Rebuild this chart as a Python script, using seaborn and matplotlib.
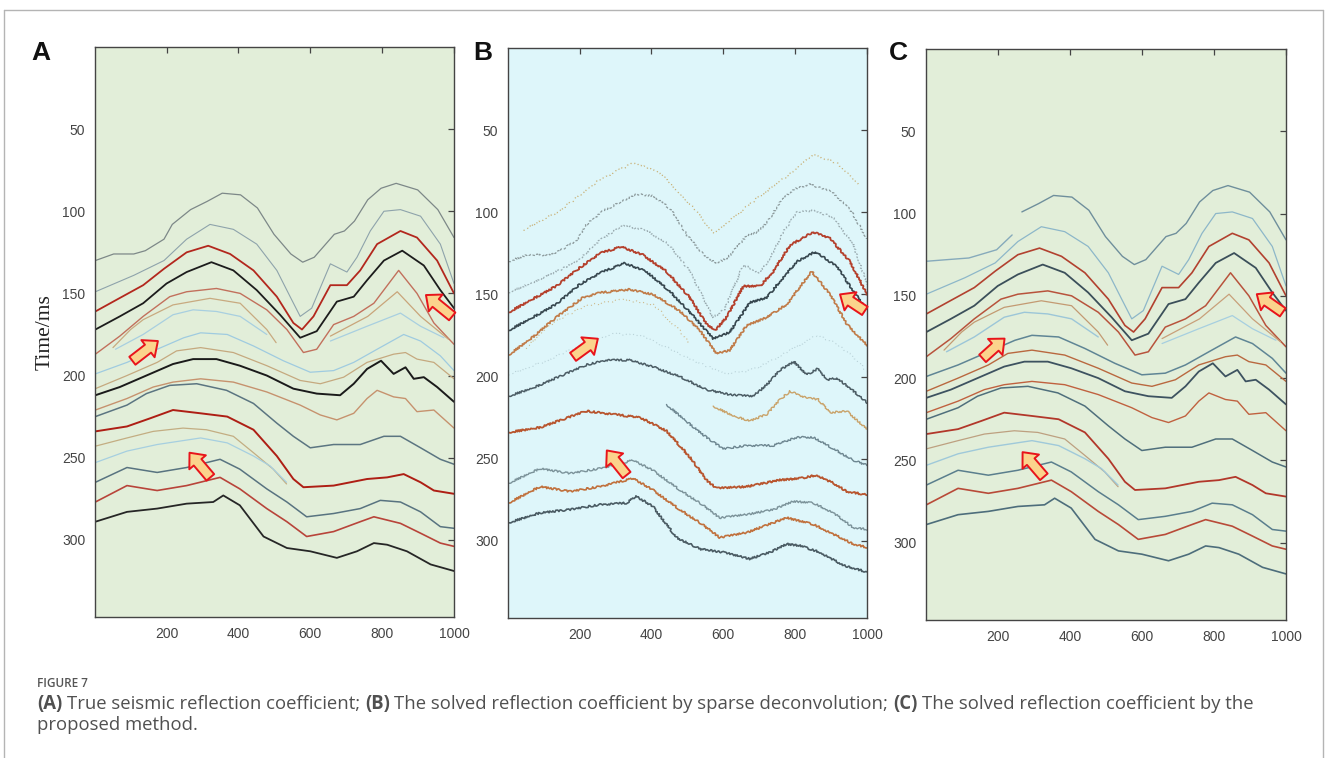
import matplotlib
matplotlib.use("Agg")
import pandas as pd
import matplotlib.pyplot as plt
import seaborn as sns
from matplotlib.lines import Line2D

# ---- horizon picks (trace, time in ms) ----
h_top = [(2, 130), (53, 126), (109, 126), (141, 124), (193, 117), (216, 108), (267, 99), (313, 94),
         (355, 89), (406, 90), (453, 98), (499, 114), (546, 126), (579, 131), (611, 128), (667, 114),
         (695, 112), (723, 106), (760, 93), (797, 86), (839, 83), (899, 87), (955, 99), (1000, 116)]
h_2 = [(2, 149), (109, 139), (193, 130), (256, 117), (321, 108), (386, 111), (451, 120), (507, 136),
       (544, 152), (572, 164), (604, 159), (656, 132), (702, 137), (730, 128), (767, 112), (805, 100),
       (851, 99), (907, 103), (962, 120), (1000, 144)]
h_red_a = [(2, 161), (60, 154), (135, 145), (193, 135), (256, 125), (316, 121), (377, 126), (442, 136),
           (507, 152), (553, 168), (577, 172), (609, 164), (656, 145), (702, 145), (739, 136), (786, 120),
           (851, 112), (897, 116), (953, 130), (1000, 150)]
h_black_a = [(2, 172), (70, 164), (135, 156), (200, 144), (256, 137), (325, 131), (386, 136), (451, 148),
             (516, 163), (572, 177), (618, 173), (674, 155), (721, 152), (758, 142), (805, 130), (856, 124),
             (916, 133), (962, 148), (1000, 159)]
h_brown_a = [(2, 187), (70, 176), (135, 164), (209, 152), (256, 149), (339, 147), (405, 150), (479, 160),
             (535, 172), (581, 186), (618, 184), (665, 169), (721, 164), (777, 156), (846, 136), (897, 150),
             (944, 168), (1000, 181)]
h_tan_part = [(51, 183), (100, 172), (135, 166), (218, 157), (321, 153), (405, 156), (479, 172), (505, 180)]
h_tan_right = [(656, 176), (760, 164), (842, 149), (907, 164), (985, 178)]
h_blue_part = [(58, 184), (135, 175), (218, 163), (274, 160), (339, 161), (405, 164), (479, 175)]
h_blue_right = [(656, 179), (758, 170), (851, 162), (907, 170), (972, 177)]
h_blue_a = [(2, 199), (90, 192), (174, 184), (248, 177), (295, 174), (369, 175), (442, 182), (525, 191),
            (600, 198), (665, 197), (721, 192), (786, 184), (860, 175), (907, 179), (962, 188), (1000, 197)]
h_tan_a = [(2, 208), (90, 200), (174, 192), (228, 185), (295, 183), (386, 186), (479, 194), (572, 203),
           (628, 205), (693, 201), (758, 192), (832, 187), (865, 186), (897, 190), (944, 192), (1000, 202)]
h_black_b = [(2, 212), (70, 207), (144, 200), (218, 193), (274, 190), (339, 190), (404, 194), (479, 200),
             (553, 208), (618, 211), (683, 212), (721, 205), (758, 196), (797, 191), (832, 199), (865, 195),
             (888, 202), (916, 201), (953, 207), (1000, 216)]
h_tan_b = [(2, 221), (90, 214), (163, 207), (218, 204), (295, 202), (386, 204), (479, 210), (572, 218),
           (628, 224), (674, 227), (721, 223), (758, 214), (786, 209), (832, 213), (865, 214), (897, 222),
           (944, 221), (1000, 232)]
h_slate_a = [(2, 225), (90, 218), (144, 211), (209, 206), (284, 205), (367, 209), (442, 217), (507, 229),
             (553, 237), (600, 244), (665, 242), (739, 242), (805, 237), (851, 237), (907, 244), (962, 251),
             (1000, 254)]
h_red_b = [(2, 234), (90, 231), (155, 226), (218, 221), (295, 223), (369, 225), (442, 233), (507, 249),
           (553, 263), (581, 268), (665, 267), (758, 263), (814, 262), (860, 260), (907, 265), (944, 270),
           (1000, 272)]
h_tan_c = [(2, 243), (90, 238), (163, 234), (246, 232), (311, 233), (386, 237), (442, 247), (497, 257),
           (534, 266)]
h_blue_b = [(2, 253), (90, 246), (174, 242), (295, 238), (369, 241), (442, 249), (488, 255), (534, 265)]
h_slate_b = [(2, 265), (90, 256), (174, 259), (256, 256), (349, 251), (404, 257), (479, 269), (535, 277),
             (590, 286), (665, 284), (739, 281), (795, 276), (851, 277), (907, 283), (962, 292), (1000, 293)]
h_red_c = [(2, 277), (90, 267), (174, 270), (256, 267), (349, 262), (404, 269), (479, 281), (535, 289),
           (590, 298), (665, 295), (739, 289), (777, 286), (851, 290), (907, 296), (962, 302), (1000, 304)]
h_black_c = [(2, 289), (90, 283), (174, 281), (256, 278), (330, 277), (358, 273), (404, 279), (470, 298),
             (535, 305), (600, 307), (674, 311), (730, 307), (777, 302), (814, 303), (869, 307), (935, 315),
             (1000, 319)]
# faint event above the top horizon in the sparse-deconvolution result
h_ghost_b = [(44, 111), (146, 99), (257, 80), (350, 70), (424, 76), (517, 97), (573, 113), (629, 103),
             (703, 90), (777, 78), (851, 65), (916, 70), (981, 84)]
# stub at the upper left of panel C
h_stub_c = [(2, 129), (60, 128), (120, 127), (197, 122), (240, 113)]

# arrows: (tail, head) in (trace, ms)
arrows_a = [((105, 191), (176, 179)), ((995, 164), (922, 151)), ((322, 262), (264, 247))]
arrows_b = [((182, 188), (251, 177)), ((994, 160), (925, 150)), ((331, 260), (276, 245))]
arrows_c = [((158, 188), (219, 176)), ((991, 160), (919, 149)), ((328, 260), (269, 245))]

y_ticks = [50, 100, 150, 200, 250, 300]
x_ticks = [200, 400, 600, 800, 1000]


def only_from(pts, x0):
    return [p for p in pts if p[0] >= x0]


def draw(ax, pts, color, lw=1.0, ls="-", alpha=1.0, jag=False):
    df = pd.DataFrame(pts, columns=["trace", "time"])
    sns.lineplot(data=df, x="trace", y="time", ax=ax, color=color, lw=lw, ls=ls,
                 alpha=alpha, sort=False, estimator=None)
    line = ax.lines[-1]
    line.set_solid_joinstyle("round")
    if jag:
        line.set_sketch_params(0.9, 2.5, 5)


def setup(ax, bg):
    ax.set_facecolor(bg)
    ax.set_xlim(1, 1000)
    ax.set_ylim(347, 0)
    ax.set_xticks(x_ticks)
    ax.set_yticks(y_ticks)
    ax.set_xlabel("")
    ax.set_ylabel("")
    ax.tick_params(direction="in", top=True, right=True, length=4, width=0.9,
                   labelsize=10, labelcolor="#444444", color="#444444", pad=7)
    for s in ax.spines.values():
        s.set_color("#444444")
        s.set_linewidth(1.0)
    for lab in ax.get_xticklabels() + ax.get_yticklabels():
        lab.set_fontfamily("Liberation Sans")


def add_arrows(ax, arrows):
    for tail, head in arrows:
        ax.annotate("", xy=head, xytext=tail,
                    arrowprops=dict(arrowstyle="simple,head_length=0.75,head_width=1.3,tail_width=0.6",
                                    fc="#fbd38c", ec="#e8141b", lw=1.4, mutation_scale=12,
                                    shrinkA=0, shrinkB=0))


sns.set_theme(style="white")
plt.rcParams["font.family"] = ["Liberation Sans", "DejaVu Sans"]

W, H = 1328, 758
fig = plt.figure(figsize=(W / 100, H / 100), dpi=100)
axA = fig.add_axes([95 / W, 1 - 617 / H, 359 / W, 570 / H])
axB = fig.add_axes([508 / W, 1 - 618 / H, 359 / W, 570 / H])
axC = fig.add_axes([926 / W, 1 - 620 / H, 360 / W, 571 / H])

# panel A: true reflectivity
style_a = [
    (h_top, "#7d8888", 0.9), (h_2, "#8ea3ab", 0.8), (h_red_a, "#b3271d", 1.3),
    (h_black_a, "#1c1c1c", 1.3), (h_brown_a, "#c2705c", 1.0), (h_tan_part, "#c8aa80", 0.9),
    (h_tan_right, "#c9a57a", 0.9), (h_blue_part, "#a8cfe0", 0.9), (h_blue_right, "#a8cfe0", 0.9),
    (h_blue_a, "#9fcbe0", 0.9), (h_tan_a, "#c5a97f", 0.9), (h_black_b, "#1a1a1a", 1.4),
    (h_tan_b, "#c6926e", 1.0), (h_slate_a, "#5b7581", 1.1), (h_red_b, "#ae1e14", 1.4),
    (h_tan_c, "#c3ad82", 0.9), (h_blue_b, "#a6cfe0", 0.9), (h_slate_b, "#587380", 1.1),
    (h_red_c, "#b8443a", 1.2), (h_black_c, "#262626", 1.3),
]
for pts, c, lw in style_a:
    draw(axA, pts, c, lw)
setup(axA, "#e2eed9")
add_arrows(axA, arrows_a)

# panel B: sparse deconvolution, noisy picks
style_b = [
    (h_ghost_b, "#c9b27a", 0.9, (0, (1, 2.5))), (h_top, "#8c9a9c", 0.9, (0, (2, 1.5))),
    (h_2, "#9aabb0", 0.9, (0, (1.5, 1.5))), (h_red_a, "#b4402c", 1.3, "-"),
    (h_black_a, "#37474f", 1.2, "-"), (h_brown_a, "#c07b48", 1.2, "-"),
    (h_tan_part, "#cdb98a", 0.8, (0, (1, 3))), (h_blue_a, "#b9d2d8", 0.8, (0, (1, 3))),
    (h_black_b, "#4b5c64", 1.1, "-"), (only_from(h_tan_b, 500), "#c9a36a", 1.0, "-"),
    (only_from(h_slate_a, 438), "#6d8690", 1.0, "-"), (h_red_b, "#b8552e", 1.3, "-"),
    (h_slate_b, "#7b9299", 1.0, "-"), (h_red_c, "#c0703c", 1.2, "-"),
    (h_black_c, "#4a5b63", 1.2, "-"),
]
for pts, c, lw, ls in style_b:
    draw(axB, pts, c, lw, ls=ls, jag=True)
setup(axB, "#def6fa")
add_arrows(axB, arrows_b)

# panel C: proposed method
style_c = [
    (h_stub_c, "#86aabb", 1.0), (only_from(h_top, 228), "#6f8f9c", 1.0), (h_2, "#8db7c9", 0.9),
    (h_red_a, "#b2412f", 1.2), (h_black_a, "#3b4f5a", 1.3), (h_brown_a, "#b8533c", 1.1),
    (h_tan_part, "#c39a72", 0.9), (h_tan_right, "#c8a07a", 0.9), (h_blue_part, "#9cc6d8", 1.0),
    (h_blue_right, "#a6cfe0", 0.9), (h_blue_a, "#5f8595", 1.1), (h_tan_a, "#b9683f", 1.0),
    (h_black_b, "#3d5260", 1.3), (h_tan_b, "#c0613f", 1.0), (h_slate_a, "#4f6f7c", 1.1),
    (h_red_b, "#b2372a", 1.3), (h_tan_c, "#bda080", 0.9), (h_blue_b, "#9fc9da", 1.0),
    (h_slate_b, "#5a7e8d", 1.1), (h_red_c, "#b84a38", 1.2), (h_black_c, "#4d6d7b", 1.2),
]
for pts, c, lw in style_c:
    draw(axC, pts, c, lw)
setup(axC, "#e2eed9")
add_arrows(axC, arrows_c)

axA.set_ylabel("Time/ms", family="Liberation Serif", fontsize=15.5, color="#222222", labelpad=5)

for lab, x in [("A", 41), ("B", 483), ("C", 898)]:
    fig.text(x / W, 1 - 53 / H, lab, fontsize=19, fontweight="bold", ha="center", va="center",
             family="Liberation Sans", color="#111111")

# outer frame (open at the bottom)
for xs, ys in [([4, 4], [10, H]), ([4, 1323], [10, 10]), ([1323, 1323], [10, H])]:
    fig.add_artist(Line2D([x / W for x in xs], [1 - y / H for y in ys], color="#b4b4b4", lw=1.0))

# caption
fig.text(37 / W, 1 - 687 / H, "FIGURE 7", fontsize=8.5, fontweight="semibold", family="Open Sans",
         color="#555555", va="baseline")
r = fig.canvas.get_renderer()


def width_of(txt, weight, size):
    t = fig.text(0, 0, txt, fontsize=size, fontweight=weight, family="Open Sans")
    w = t.get_window_extent(renderer=r).width
    t.remove()
    return w


cap_size = 13.35
gap = width_of("a a", "normal", cap_size) - width_of("aa", "normal", cap_size)
parts = [("(A)", "bold"), ("True seismic reflection coefficient;", "normal"), ("(B)", "bold"),
         ("The solved reflection coefficient by sparse deconvolution;", "normal"), ("(C)", "bold"),
         ("The solved reflection coefficient by the", "normal")]
x = 37.0
for txt, wt in parts:
    fig.text(x / W, 1 - 709 / H, txt, fontsize=cap_size, fontweight=wt, family="Open Sans",
             color="#505050", va="baseline")
    x += width_of(txt, wt, cap_size) + gap
fig.text(37 / W, 1 - 730 / H, "proposed method.", fontsize=cap_size, family="Open Sans",
         color="#505050", va="baseline")

fig.savefig("out.png", dpi=100, facecolor="white")
